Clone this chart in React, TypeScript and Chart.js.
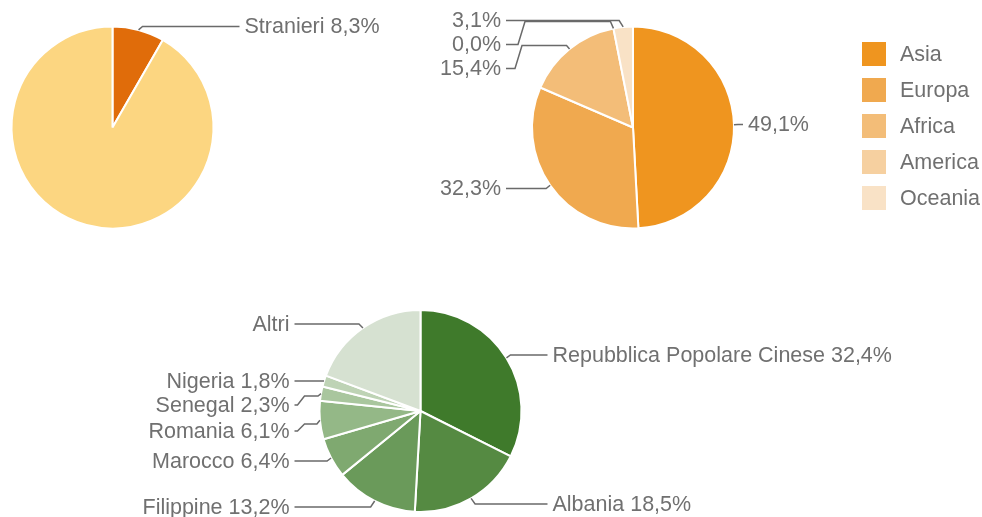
import React, { useEffect, useRef } from "react";
import { Chart, registerables } from "chart.js";

Chart.register(...registerables);

// ---------- DATA ----------
const originLabels = ["Stranieri", "Italiani"];
const originValues = [8.3, 91.7];
const originColors = ["#E06C0A", "#FCD681"];

const continentLabels = ["Asia", "Europa", "Africa", "America", "Oceania"];
const continentValues = [49.1, 32.3, 15.4, 0.0, 3.1];
const continentColors = ["#EF951F", "#F0A94F", "#F3BD78", "#F6D0A0", "#F9E2C6"];

const countryLabels = [
  "Repubblica Popolare Cinese",
  "Albania",
  "Filippine",
  "Marocco",
  "Romania",
  "Senegal",
  "Nigeria",
  "Altri",
];
const countryValues = [32.4, 18.5, 13.2, 6.4, 6.1, 2.3, 1.8, 19.3];
const countryColors = [
  "#3F7A2B",
  "#558A42",
  "#6A9A5A",
  "#7FA970",
  "#94B887",
  "#A9C69E",
  "#BED3B5",
  "#D6E1D1",
];

// ---------- STYLE / LAYOUT ----------
const W = 982;
const H = 517;
const FONT = '21.5px "Liberation Sans", Arial, Helvetica, sans-serif';
const TEXT_COLOR = "#707070";
const LINE_COLOR = "#6A6A6A";

type LabelSpec = {
  index: number;
  side: "left" | "right";
  dy: number; // text centre relative to pie centre
  gap: number; // text distance from pie edge
  name: boolean;
  value: boolean;
  bend?: number; // y of bent horizontal segment relative to centre
  knee?: number;
};

const fmt = (v: number) => v.toFixed(1).replace(".", ",") + "%";

const leaderPlugin = {
  id: "leader",
  afterDatasetsDraw(chart: any, _args: any, opts: any) {
    const items: LabelSpec[] = opts.items || [];
    const ctx = chart.ctx as CanvasRenderingContext2D;
    const meta = chart.getDatasetMeta(0);
    const values = chart.data.datasets[0].data as number[];
    const labels = chart.data.labels as string[];
    ctx.save();
    ctx.font = FONT;
    ctx.textBaseline = "middle";
    ctx.strokeStyle = LINE_COLOR;
    ctx.fillStyle = TEXT_COLOR;
    ctx.lineWidth = 1.5;
    for (const it of items) {
      const arc = meta.data[it.index];
      const { x, y, startAngle, endAngle, outerRadius } = arc.getProps(
        ["x", "y", "startAngle", "endAngle", "outerRadius"],
        true
      );
      const mid = (startAngle + endAngle) / 2;
      const ax = x + Math.cos(mid) * outerRadius;
      const ay = y + Math.sin(mid) * outerRadius;
      const dir = it.side === "right" ? 1 : -1;
      const textX = x + dir * (outerRadius + it.gap);
      const ty = y + it.dy;
      const lineEnd = textX - dir * 5;
      const pts: [number, number][] = [[ax, ay]];
      if (it.bend !== undefined) {
        const by = y + it.bend;
        pts.push([ax + dir * 3, by]);
        const kx = lineEnd - dir * (it.knee || 12);
        pts.push([kx, by]);
        pts.push([kx + dir * 7, ty]);
      } else {
        pts.push([ax + dir * 4, ty]);
      }
      pts.push([lineEnd, ty]);
      ctx.beginPath();
      ctx.moveTo(pts[0][0], pts[0][1]);
      for (let i = 1; i < pts.length; i++) ctx.lineTo(pts[i][0], pts[i][1]);
      ctx.stroke();
      const parts: string[] = [];
      if (it.name) parts.push(labels[it.index]);
      if (it.value) parts.push(fmt(values[it.index]));
      ctx.textAlign = it.side === "right" ? "left" : "right";
      ctx.fillText(parts.join(" "), textX, ty + 1);
    }
    const lg = opts.legend;
    if (lg) {
      const colors = chart.data.datasets[0].backgroundColor as string[];
      ctx.textAlign = "left";
      labels.forEach((lab, i) => {
        const cy = lg.y + i * lg.step;
        ctx.fillStyle = colors[i];
        ctx.fillRect(lg.x, cy - lg.box / 2, lg.box, lg.box);
        ctx.fillStyle = TEXT_COLOR;
        ctx.fillText(lab, lg.x + lg.box + 14, cy + 1);
      });
    }
    ctx.restore();
  },
};

function makeConfig(
  labels: string[],
  values: number[],
  colors: string[],
  padding: { left: number; right: number; top: number; bottom: number },
  items: LabelSpec[],
  legend?: { x: number; y: number; step: number; box: number }
): any {
  return {
    type: "pie",
    data: {
      labels,
      datasets: [
        {
          data: values,
          backgroundColor: colors,
          borderColor: "#FFFFFF",
          borderWidth: 2,
        },
      ],
    },
    options: {
      responsive: false,
      animation: false,
      events: [],
      devicePixelRatio: 1,
      radius: 101,
      layout: { padding },
      plugins: {
        legend: { display: false },
        tooltip: { enabled: false },
        title: { display: false },
        leader: { items, legend },
      },
    },
    plugins: [leaderPlugin],
  };
}

const originItems: LabelSpec[] = [
  { index: 0, side: "right", dy: -101, gap: 31, name: true, value: true },
];

const continentItems: LabelSpec[] = [
  { index: 0, side: "right", dy: -3, gap: 14, name: false, value: true },
  { index: 1, side: "left", dy: 61, gap: 31, name: false, value: true },
  { index: 2, side: "left", dy: -59, gap: 31, name: false, value: true, bend: -82, knee: 16 },
  { index: 3, side: "left", dy: -83, gap: 31, name: false, value: true, bend: -106, knee: 19 },
  { index: 4, side: "left", dy: -107, gap: 31, name: false, value: true },
];

const countryItems: LabelSpec[] = [
  { index: 0, side: "right", dy: -56, gap: 31, name: true, value: true },
  { index: 1, side: "right", dy: 93, gap: 31, name: true, value: true },
  { index: 2, side: "left", dy: 96, gap: 30, name: true, value: true },
  { index: 3, side: "left", dy: 50, gap: 30, name: true, value: true },
  { index: 4, side: "left", dy: 20, gap: 30, name: true, value: true, bend: 13, knee: 10 },
  { index: 5, side: "left", dy: -6, gap: 30, name: true, value: true, bend: -15, knee: 10 },
  { index: 6, side: "left", dy: -30, gap: 30, name: true, value: true },
  { index: 7, side: "left", dy: -87, gap: 30, name: true, value: false },
];

export default function App() {
  const c1 = useRef<HTMLCanvasElement>(null);
  const c2 = useRef<HTMLCanvasElement>(null);
  const c3 = useRef<HTMLCanvasElement>(null);

  useEffect(() => {
    document.body.style.margin = "0";
    document.body.style.background = "#FFFFFF";
    const charts: Chart[] = [];
    if (c1.current)
      charts.push(
        new Chart(
          c1.current,
          makeConfig(
            originLabels,
            originValues,
            originColors,
            { left: 0, top: 0, right: W - 225, bottom: H - 255 },
            originItems
          )
        )
      );
    if (c2.current)
      charts.push(
        new Chart(
          c2.current,
          makeConfig(
            continentLabels,
            continentValues,
            continentColors,
            { left: 433, top: 0, right: W - 833, bottom: H - 255 },
            continentItems,
            { x: 862, y: 54, step: 36, box: 24 }
          )
        )
      );
    if (c3.current)
      charts.push(
        new Chart(
          c3.current,
          makeConfig(
            countryLabels,
            countryValues,
            countryColors,
            { left: 220, top: 305, right: W - 621, bottom: 0 },
            countryItems
          )
        )
      );
    return () => charts.forEach((c) => c.destroy());
  }, []);

  const style: React.CSSProperties = {
    position: "absolute",
    left: 0,
    top: 0,
    width: W,
    height: H,
  };
  return (
    <div style={{ position: "relative", width: W, height: H, background: "#FFFFFF" }}>
      <canvas ref={c1} width={W} height={H} style={style} />
      <canvas ref={c2} width={W} height={H} style={style} />
      <canvas ref={c3} width={W} height={H} style={style} />
    </div>
  );
}
